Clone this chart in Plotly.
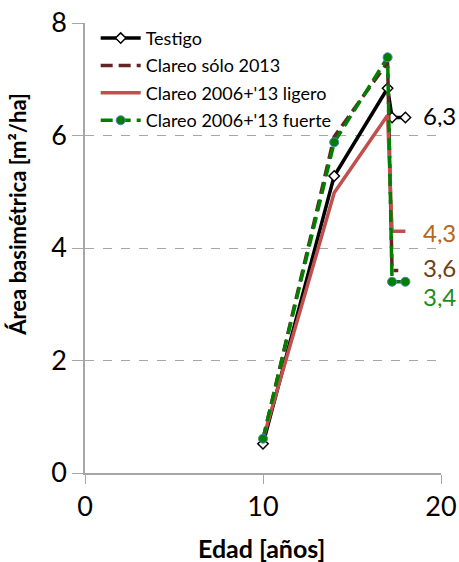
import plotly.graph_objects as go

edad = [10, 14, 17, 17.25, 18]
testigo = [0.52, 5.28, 6.84, 6.32, 6.32]
solo2013_x = [10, 14, 17, 17.25, 17.6]
solo2013 = [0.6, 5.98, 7.3, 3.6, 3.6]
ligero = [0.6, 4.98, 6.36, 4.3, 4.3]
fuerte = [0.61, 5.88, 7.39, 3.4, 3.4]

labels = ["6,3", "4,3", "3,6", "3,4"]
label_y = [6.36, 4.28, 3.67, 3.15]
label_colors = ["#000000", "#B5651D", "#6E3F12", "#1E8C1E"]

x_title = "Edad [años]"
y_title = "Área basimétrica [m²/ha]"

FONT = "Lato, 'Open Sans', sans-serif"

fig = go.Figure()
fig.add_trace(go.Scatter(x=edad, y=testigo, name="Testigo", mode="lines+markers",
                         line=dict(color="black", width=3.5),
                         marker=dict(symbol="diamond", size=8, color="white",
                                     line=dict(color="black", width=1.5)),
                         legendgroup="a"))
fig.add_trace(go.Scatter(x=solo2013_x, y=solo2013, name="Clareo sólo 2013", mode="lines",
                         line=dict(color="#632523", width=3.5, dash="12px,6px"),
                         legendgroup="b"))
fig.add_trace(go.Scatter(x=edad, y=ligero, name="Clareo 2006+'13 ligero", mode="lines",
                         line=dict(color="#C0504D", width=3.5),
                         legendgroup="c"))
fig.add_trace(go.Scatter(x=edad, y=fuerte, name="Clareo 2006+'13 fuerte", mode="lines+markers",
                         line=dict(color="#008000", width=3.5, dash="12px,6px"),
                         marker=dict(symbol="circle", size=9, color="#008000",
                                     line=dict(color="#4F81BD", width=1)),
                         legendgroup="d"))

for t, yv, c in zip(labels, label_y, label_colors):
    fig.add_annotation(x=19.9, y=yv, text=t, showarrow=False, xref="x", yref="y",
                       font=dict(size=24, color=c, family=FONT), xanchor="center",
                       yanchor="middle", height=24)

fig.add_annotation(x=-0.188, y=0.574, xref="paper", yref="paper", text=f"<b>{y_title}</b>",
                   textangle=-90, showarrow=False, xanchor="center", yanchor="middle",
                   font=dict(size=22, family=FONT, color="black"))
fig.add_annotation(x=0.497, y=-0.128, xref="paper", yref="paper", text=f"<b>{x_title}</b>",
                   showarrow=False, xanchor="center", yanchor="top",
                   font=dict(size=25, family=FONT, color="black"))

fig.update_layout(
    width=459, height=562,
    margin=dict(l=85, r=18, t=23, b=89),
    paper_bgcolor="white", plot_bgcolor="white",
    font=dict(family=FONT, color="black"),
    showlegend=True,
    legend=dict(x=0.03, y=1.007, xanchor="left", yanchor="top",
                bgcolor="rgba(0,0,0,0)", font=dict(size=18, family=FONT),
                tracegroupgap=1, itemwidth=40),
    xaxis=dict(range=[0, 20], tickvals=[0, 10, 20], showgrid=False, automargin=False,
               showline=True, linecolor="#A6A6A6", linewidth=1.5,
               ticks="outside", tickcolor="#A6A6A6", ticklen=9,
               tickfont=dict(size=27), zeroline=False),
    yaxis=dict(range=[0, 8], tickvals=[0, 2, 4, 6, 8], showgrid=True, automargin=False,
               gridcolor="#A6A6A6", griddash="dash", gridwidth=1,
               showline=True, linecolor="#A6A6A6", linewidth=1.5,
               ticks="outside", tickcolor="#A6A6A6", ticklen=11,
               tickfont=dict(size=27), zeroline=False),
)

fig.write_html("out.html")
